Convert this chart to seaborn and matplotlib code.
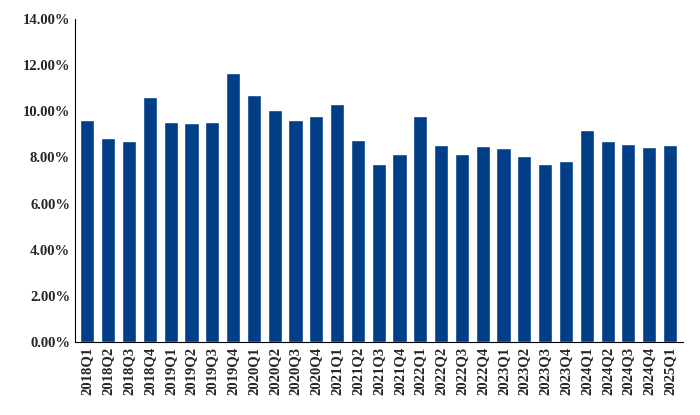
import pandas as pd
import seaborn as sns
import matplotlib.pyplot as plt
from matplotlib.ticker import FuncFormatter

#data
quarters = ['2018Q1', '2018Q2', '2018Q3', '2018Q4', '2019Q1', '2019Q2', '2019Q3', '2019Q4',
            '2020Q1', '2020Q2', '2020Q3', '2020Q4', '2021Q1', '2021Q2', '2021Q3', '2021Q4',
            '2022Q1', '2022Q2', '2022Q3', '2022Q4', '2023Q1', '2023Q2', '2023Q3', '2023Q4',
            '2024Q1', '2024Q2', '2024Q3', '2024Q4', '2025Q1']
values = [9.6, 8.85, 8.7, 10.6, 9.55, 9.5, 9.55, 11.65,
          10.7, 10.05, 9.6, 9.8, 10.3, 8.75, 7.7, 8.15,
          9.8, 8.55, 8.15, 8.5, 8.4, 8.05, 7.7, 7.85,
          9.2, 8.7, 8.6, 8.45, 8.55]

df = pd.DataFrame({'quarter': quarters, 'value': values})

sns.set_style("white")
plt.rcParams['font.family'] = ['Liberation Serif', 'DejaVu Serif']
plt.rcParams['font.weight'] = 'bold'

fig, ax = plt.subplots(figsize=(7, 4.15), dpi=100)
sns.barplot(data=df, x='quarter', y='value', color='#003F87', saturation=1, width=0.68, ax=ax)

ax.set_ylim(0, 14)
ax.set_yticks([0, 2, 4, 6, 8, 10, 12, 14])
ax.yaxis.set_major_formatter(FuncFormatter(lambda v, p: f"{v:.2f}%"))
ax.set_xlabel("")
ax.set_ylabel("")
ax.tick_params(axis='x', rotation=90, labelsize=10.5, length=0)
ax.tick_params(axis='y', labelsize=10.5, length=0)
for lab in ax.get_xticklabels() + ax.get_yticklabels():
    lab.set_fontweight('bold')
ax.set_xlim(-0.6, len(quarters) - 0.4)
for s in ['top', 'right']:
    ax.spines[s].set_visible(False)
for s in ['left', 'bottom']:
    ax.spines[s].set_color('black')
    ax.spines[s].set_linewidth(0.8)

plt.subplots_adjust(left=0.107, right=0.975, top=0.955, bottom=0.175)
plt.savefig("out.png", dpi=100)
